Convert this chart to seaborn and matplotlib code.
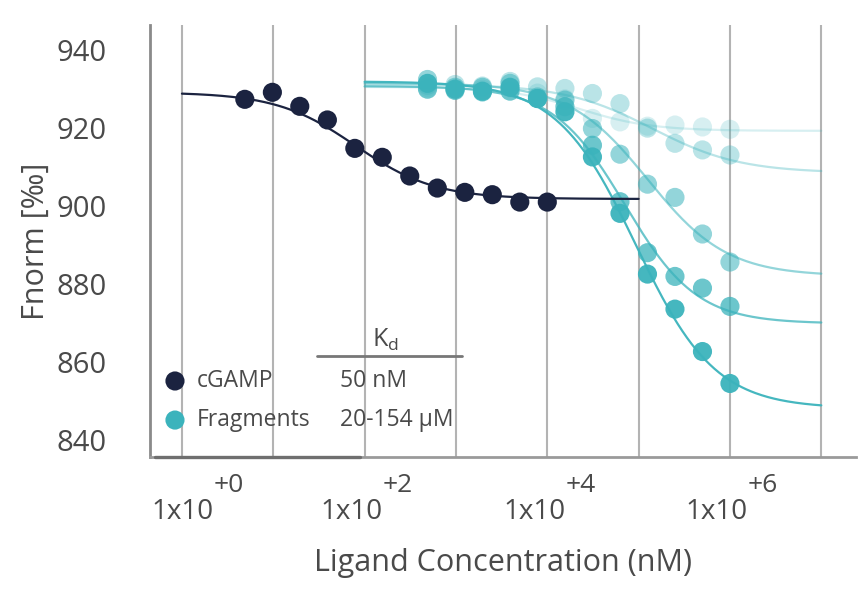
import matplotlib
matplotlib.use("Agg")
import matplotlib.pyplot as plt
import numpy as np
import pandas as pd
import seaborn as sns

# cGAMP titration, concentration in nM, Fnorm in permille
cgamp_conc = [4.88, 9.77, 19.5, 39.1, 78.1, 156, 312, 625, 1250, 2500, 5000, 10000]
cgamp_fnorm = [927.4, 929.2, 925.6, 922.1, 914.8, 912.5, 907.7, 904.6, 903.5, 902.9, 901.0, 901.0]

# fragment titrations (five compounds, same dilution series)
frag_conc = [488, 977, 1950, 3910, 7810, 15600, 31200, 62500, 125000, 250000, 500000, 1000000]
frag_1 = [930.5, 930.2, 930.0, 930.3, 929.0, 927.5, 922.5, 921.6, 920.5, 920.8, 920.3, 919.7]
frag_2 = [931.0, 931.2, 930.8, 932.0, 930.6, 930.2, 928.9, 926.3, 920.0, 916.1, 914.4, 913.1]
frag_3 = [932.5, 930.5, 930.5, 931.5, 928.0, 927.2, 919.9, 913.3, 905.6, 902.2, 892.8, 885.6]
frag_4 = [930.0, 929.7, 929.3, 929.5, 927.6, 925.5, 915.6, 901.1, 888.0, 881.9, 878.9, 874.2]
frag_5 = [931.5, 930.0, 929.5, 930.5, 927.6, 924.2, 912.6, 898.1, 882.5, 873.5, 862.6, 854.4]
frag_series = [frag_1, frag_2, frag_3, frag_4, frag_5]
frag_alpha = [0.2, 0.35, 0.55, 0.75, 0.95]

# dose-response fit parameters
cgamp_fit = dict(top=929.2, bottom=901.8, log_ec50=1.9, hill=1.0, span=(0, 5))
frag_top = [930.6, 931.3, 931.6, 930.8, 932.0]
frag_bottom = [919.3, 908.5, 882.0, 869.8, 848.0]
frag_log_ec50 = [4.35, 5.15, 5.10, 4.85, 4.97]
frag_hill = [1.1, 0.9, 1.0, 1.1, 1.0]
frag_span = (2, 7)

legend_names = ["cGAMP", "Fragments"]
legend_kd = ["50 nM", "20-154 µM"]

navy = "#1b2340"
teal = "#3bb3bc"
grey_text = "#4a4a4a"


def hill_curve(top, bottom, log_ec50, hill, span):
    x = np.logspace(span[0], span[1], 300)
    y = bottom + (top - bottom) / (1 + (x / 10 ** log_ec50) ** hill)
    return x, y


sns.set_theme(style="white")
plt.rcParams["font.family"] = ["Open Sans", "DejaVu Sans"]

fig = plt.figure(figsize=(8.65, 5.99), dpi=100)
ax = fig.add_axes([0.1734, 0.237, 0.8162, 0.7213])
ax.set_xscale("log")

# fragments
for vals, a, top, bot, ec, h in zip(frag_series, frag_alpha, frag_top,
                                     frag_bottom, frag_log_ec50, frag_hill):
    cx, cy = hill_curve(top, bot, ec, h, frag_span)
    sns.lineplot(x=cx, y=cy, color=teal, alpha=a, lw=1.6, ax=ax)
    sns.scatterplot(x=frag_conc, y=vals, color=teal, alpha=a, s=190,
                    edgecolor="none", ax=ax)

# cGAMP
cx, cy = hill_curve(**cgamp_fit)
sns.lineplot(x=cx, y=cy, color=navy, lw=1.6, ax=ax)
sns.scatterplot(x=cgamp_conc, y=cgamp_fnorm, color=navy, s=190,
                edgecolor="none", ax=ax, zorder=5)

ax.set_xlim(10 ** -0.35, 10 ** 7.38)
ax.set_ylim(835.5, 946.5)
ax.set_xticks([10.0 ** p for p in range(0, 8)])
ax.xaxis.set_minor_locator(matplotlib.ticker.NullLocator())
ax.set_xticklabels([])
ax.set_yticks([840, 860, 880, 900, 920, 940])
ax.tick_params(axis="y", length=0, pad=31, labelsize=21, labelcolor=grey_text)
ax.tick_params(axis="x", length=0)
ax.grid(axis="x", color="#b3b3b3", lw=1.5)
ax.grid(axis="y", visible=False)

for side in ["top", "right"]:
    ax.spines[side].set_visible(False)
ax.spines["left"].set_color("#8a8a8a")
ax.spines["left"].set_linewidth(2)
ax.spines["bottom"].set_color("#9a9a9a")
ax.spines["bottom"].set_linewidth(2)
# darker stretch of the baseline under the first decades
ax.plot([0.007, 0.297], [0, 0], transform=ax.transAxes, color="#6f6f6f",
        lw=2.4, clip_on=False, zorder=3)

# x tick labels written as 1x10 with a raised exponent
for p in [0, 2, 4, 6]:
    base_dx, sup_dx = (1, 47) if p == 0 else (-13, 33)
    ax.annotate("1x10", xy=(10.0 ** p, 0), xycoords=("data", "axes fraction"),
                xytext=(base_dx, -62), textcoords="offset pixels",
                ha="center", va="baseline", fontsize=20, color=grey_text)
    ax.annotate("+%d" % p, xy=(10.0 ** p, 0), xycoords=("data", "axes fraction"),
                xytext=(sup_dx, -35), textcoords="offset pixels",
                ha="center", va="baseline", fontsize=19, color=grey_text)

ax.set_xlabel("Ligand Concentration (nM)", fontsize=22, color=grey_text)
ax.xaxis.set_label_coords(0.5, -0.21)
ax.set_ylabel("Fnorm [‰]", fontsize=22, color=grey_text)
ax.yaxis.set_label_coords(-0.14, 0.5)

# legend table with Kd column
ax.text(0.333, 0.271, "K$_\\mathregular{d}$", transform=ax.transAxes,
        ha="center", va="center", fontsize=18, color=grey_text)
ax.plot([0.2365, 0.442], [0.234, 0.234], transform=ax.transAxes,
        color="#777777", lw=2, clip_on=False)
for i, (name, kd, col) in enumerate(zip(legend_names, legend_kd, [navy, teal])):
    yy = 0.176 - i * 0.0904
    ax.scatter([0.0354], [yy], s=190, color=col, edgecolor="none",
               transform=ax.transAxes, zorder=6)
    ax.text(0.0666, yy, name, transform=ax.transAxes, ha="left", va="center",
            fontsize=16.5, color=grey_text)
    ax.text(0.269, yy, kd, transform=ax.transAxes, ha="left", va="center",
            fontsize=16.5, color=grey_text)

fig.savefig("out.png", dpi=100)
